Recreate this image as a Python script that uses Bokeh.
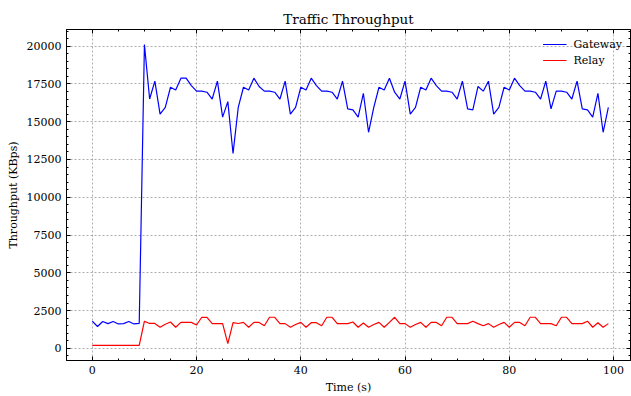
from bokeh.plotting import figure
from bokeh.models import LinearAxis, Range1d, FixedTicker, Legend, LegendItem, CustomJSTickFormatter
from bokeh.embed import file_html
from bokeh.resources import INLINE

time_s = list(range(100))
gateway = [1800, 1450, 1780, 1640, 1780, 1620, 1640, 1780, 1620, 1650,
           20100, 16500, 17680, 15500, 15950, 17280, 17100, 17880, 17880, 17390,
           17020, 17020, 16950, 16500, 17680, 15300, 16330, 12900, 15950, 17280,
           17100, 17880, 17330, 17020, 17020, 16950, 16500, 17680, 15500, 15950,
           17280, 17100, 17880, 17390, 17020, 17020, 16950, 16500, 17680, 15850,
           15780, 15300, 16880, 14300, 15950, 17280, 17100, 17880, 16950, 16500,
           17680, 15500, 15950, 17280, 17100, 17880, 17390, 17020, 17020, 16950,
           16500, 17680, 15850, 15780, 17330, 17020, 17680, 15500, 15950, 17280,
           17100, 17880, 17390, 17020, 17020, 16950, 16500, 17680, 15850, 17020,
           17020, 16950, 16500, 17680, 15850, 15780, 15300, 16880, 14300, 15950]
relay = [200, 200, 200, 200, 200, 200, 200, 200, 200, 200,
         1800, 1650, 1650, 1400, 1600, 1750, 1400, 1720, 1720, 1720,
         1550, 2060, 2050, 1640, 1640, 1640, 320, 1700, 1650, 1720,
         1400, 1720, 1720, 1500, 2060, 2060, 1640, 1640, 1400, 1580,
         1720, 1400, 1700, 1700, 1500, 2060, 2060, 1640, 1640, 1640,
         1750, 1400, 1680, 1400, 1580, 1720, 1400, 1720, 2060, 1640,
         1640, 1400, 1580, 1720, 1400, 1720, 1720, 1500, 2060, 2060,
         1640, 1640, 1640, 1800, 1640, 1500, 1640, 1400, 1580, 1720,
         1400, 1720, 1720, 1500, 2060, 2060, 1640, 1640, 1640, 1500,
         2060, 2060, 1640, 1640, 1640, 1800, 1400, 1700, 1400, 1640]

x_ticks = [0, 20, 40, 60, 80, 100]
y_ticks = [0, 2500, 5000, 7500, 10000, 12500, 15000, 17500, 20000]

FONT = "DejaVu Serif"

p = figure(width=631, height=396, output_backend="svg", toolbar_location=None,
           x_range=Range1d(-4.95, 103.25), y_range=Range1d(-800, 21100),
           min_border_left=66, min_border_right=1, min_border_top=29,
           min_border_bottom=35)

p.title.text = "Traffic Throughput"
p.title.align = "center"
p.title.text_font = FONT
p.title.text_font_size = "13.5px"
p.title.text_font_style = "normal"
p.title.text_color = "black"
p.title.standoff = 6

p.outline_line_color = "black"
p.outline_line_width = 1

r1 = p.line(time_s, gateway, line_color="#0000ff", line_width=1.2)
r2 = p.line(time_s, relay, line_color="#ff0000", line_width=1.2)

x_minor = [v for v in range(-5, 105, 5)]
y_minor = [v for v in range(-500, 21001, 500)]

p.xaxis.ticker = FixedTicker(ticks=x_ticks, minor_ticks=x_minor)
p.yaxis.ticker = FixedTicker(ticks=y_ticks, minor_ticks=y_minor)
for ax in p.xaxis + p.yaxis:
    ax.major_tick_in = 4
    ax.major_tick_out = 0
    ax.minor_tick_in = 2
    ax.minor_tick_out = 0
    ax.major_label_text_font = FONT
    ax.major_label_text_font_size = "11px"
    ax.major_label_text_color = "black"
    ax.axis_label_text_font = FONT
    ax.axis_label_text_font_size = "11px"
    ax.axis_label_text_font_style = "normal"
    ax.axis_label_text_color = "black"
    ax.major_label_standoff = 5
    ax.axis_label_standoff = 4

p.xaxis.axis_label = "Time (s)"
p.yaxis.axis_label = "Throughput (KBps)"

blank = CustomJSTickFormatter(code="return '';")
top = LinearAxis(ticker=FixedTicker(ticks=x_ticks, minor_ticks=x_minor),
                 formatter=blank, major_tick_in=4, major_tick_out=0,
                 minor_tick_in=2, minor_tick_out=0, major_label_standoff=0)
right = LinearAxis(ticker=FixedTicker(ticks=y_ticks, minor_ticks=y_minor),
                   formatter=blank, major_tick_in=4, major_tick_out=0,
                   minor_tick_in=2, minor_tick_out=0, major_label_standoff=0)
p.add_layout(top, "above")
p.add_layout(right, "right")

p.grid.grid_line_color = "#808080"
p.grid.grid_line_dash = "2 2"
p.grid.grid_line_width = 0.8
p.grid.grid_line_alpha = 0.8
p.xgrid.ticker = FixedTicker(ticks=x_ticks)
p.ygrid.ticker = FixedTicker(ticks=y_ticks)

legend = Legend(items=[LegendItem(label="Gateway", renderers=[r1]),
                       LegendItem(label="Relay", renderers=[r2])],
                location="top_right")
legend.border_line_alpha = 0
legend.background_fill_alpha = 0
legend.label_text_font = FONT
legend.label_text_font_size = "11px"
legend.label_text_color = "black"
legend.glyph_width = 24
legend.glyph_height = 14
legend.label_height = 14
legend.label_standoff = 7
legend.spacing = 2
legend.padding = 6
legend.margin = 2
p.add_layout(legend)

open("out.html", "w").write(file_html(p, INLINE))
